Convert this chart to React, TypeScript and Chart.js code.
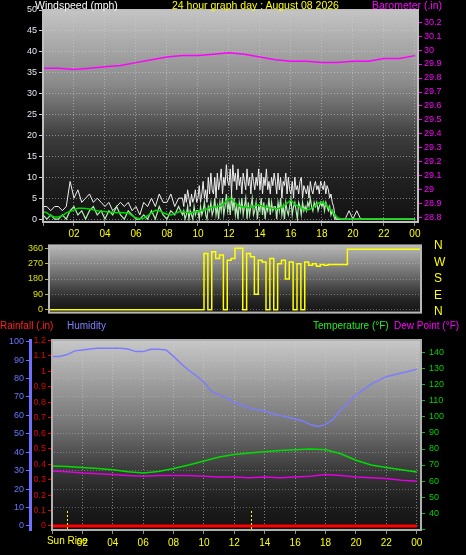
import React, { useEffect, useRef } from "react";
import { Chart, registerables } from "chart.js";
Chart.register(...registerables);

const FONT = "'Liberation Sans', Arial, sans-serif";

// ---------- DATA ----------
// 15-minute wind average samples (hours 0..24)
const avgHours = Array.from({ length: 97 }, (_, i) => i / 4);
// gust / speed samples: 15 min until 09:00, 5 min 09:00-19:00, 15 min after 19:00
const gustHours = [
  ...Array.from({ length: 36 }, (_, i) => i / 4),
  ...Array.from({ length: 120 }, (_, i) => 9 + i / 12),
  ...Array.from({ length: 21 }, (_, i) => 19 + i / 4),
];
const windGust = [
  3, 3, 2, 3, 3, 2, 3, 9, 5, 7, 4, 5, 6, 4, 5, 4, 3, 4, 2, 3, 4, 3, 4, 2,
  3, 1, 4, 3, 5, 3, 6, 4, 4, 6, 3, 5,
  5, 3, 6, 4, 7, 5, 3, 6, 4, 5, 7, 4,
  5, 8, 4, 6, 9, 5, 7, 4, 10, 6, 11, 7,
  6, 10, 5, 11, 7, 9, 12, 6, 10, 8, 13, 9,
  8, 12, 6, 13, 9, 11, 7, 12, 8, 10, 6, 11,
  9, 7, 12, 8, 10, 6, 11, 9, 7, 10, 8, 12,
  7, 11, 6, 10, 8, 12, 7, 9, 6, 10, 8, 11,
  9, 6, 11, 7, 10, 5, 9, 8, 11, 6, 10, 7,
  6, 9, 5, 10, 7, 8, 6, 9, 10, 5, 8, 7,
  6, 8, 5, 9, 7, 6, 8, 9, 7, 8, 6, 9,
  8, 7, 9, 6, 8, 7, 5, 6, 4, 3, 1, 0,
  0, 0, 0, 2, 0, 2, 0, 0, 0, 0, 0, 0, 0, 0, 0, 0, 0, 0, 0, 0, 0,
];
const windSpeed = [
  1, 0, 1, 0, 0, 1, 0, 2, 3, 1, 2, 0, 2, 3, 1, 2, 0, 2, 1, 3, 1, 0, 2, 1,
  0, 0, 1, 0, 2, 0, 3, 1, 0, 2, 1, 3,
  1, 2, 0, 1, 3, 0, 2, 1, 0, 3, 1, 2,
  2, 0, 3, 1, 2, 4, 1, 0, 3, 2, 4, 1,
  2, 5, 1, 3, 0, 4, 2, 5, 1, 3, 6, 2,
  4, 1, 6, 2, 5, 1, 3, 0, 4, 2, 5, 1,
  3, 5, 0, 4, 1, 3, 5, 1, 2, 4, 0, 3,
  2, 5, 1, 4, 0, 3, 2, 5, 1, 4, 2, 3,
  3, 0, 4, 2, 5, 1, 3, 0, 4, 2, 1, 3,
  5, 1, 3, 4, 2, 0, 4, 3, 1, 4, 2, 3,
  2, 4, 3, 5, 3, 2, 4, 3, 4, 2, 3, 4,
  3, 4, 2, 4, 3, 2, 3, 1, 2, 1, 0, 0,
  0, 0, 0, 0, 0, 0, 0, 0, 0, 0, 0, 0, 0, 0, 0, 0, 0, 0, 0, 0, 0,
];
const windAvg = [
  1.8, 1.5, 0.8, 0.5, 0.5, 0.8, 1.5, 1.8, 2.2, 2.6, 2.6, 2.5, 2.4, 2.2, 2.0, 1.9,
  1.8, 1.6, 1.7, 1.5, 1.6, 1.5, 1.4, 0.8, 0.3, 0.1, 0.2, 0.8, 1.5, 2.1, 2.0, 1.5,
  1.2, 1.0, 1.3, 1.7, 1.8, 1.6, 1.5, 1.7, 1.8, 2.1, 2.3, 2.7, 2.8, 3.0, 3.2, 4.0,
  5.0, 4.5, 3.5, 3.0, 2.9, 2.7, 2.9, 3.3, 3.3, 3.0, 2.8, 2.6, 2.5, 2.6, 3.0, 3.8,
  4.5, 3.5, 3.0, 2.5, 2.1, 2.4, 3.0, 3.8, 4.1, 3.5, 2.5, 1.5, 0.3, 0, 0, 0,
  0, 0, 0, 0, 0, 0, 0, 0, 0, 0, 0, 0, 0, 0, 0, 0,
  0,
];
const windDir = [
  0, 0, 0, 0, 0, 0, 0, 0, 0, 0, 0, 0, 0, 0, 0, 0, 0, 0, 0, 0,
  0, 0, 0, 0, 0, 0, 0, 0, 0, 0, 0, 0, 0, 0, 0, 0, 0, 0, 0, 0,
  330, 0, 340, 300, 320, 0, 290, 300, 360, 360, 0, 330, 310, 90, 290, 280,
  0, 300, 0, 270, 290, 180, 280, 0, 270, 0, 280, 260, 270, 255, 265, 260,
  265, 265, 265, 265, 265, 355, 355, 355,
  355, 355, 355, 355, 355, 355, 355, 355, 355, 355, 355, 355, 355, 355, 355, 355,
  355,
];
// hourly samples
const hourly = [0, 1, 2, 3, 4, 5, 6, 7, 8, 9, 10, 11, 12, 13, 14, 15, 16, 17, 18, 19, 20, 21, 22, 23, 24];
const barometer = [
  29.87, 29.87, 29.86, 29.87, 29.88, 29.89, 29.91, 29.93, 29.95, 29.96, 29.96, 29.97, 29.98,
  29.97, 29.95, 29.93, 29.92, 29.92, 29.91, 29.91, 29.92, 29.92, 29.94, 29.94, 29.96,
];
const temperature = [
  69.4, 69, 68.5, 67.8, 67, 65.8, 65, 66, 67.8, 70, 72.5, 75, 76.5,
  77.5, 78.3, 79, 79.5, 80, 79.5, 77, 73, 70, 68.5, 67, 65.6,
];
const dewPoint = [
  66.3, 65.8, 65, 64.5, 64, 63.5, 63, 63.5, 63.5, 63.5, 63, 62.5, 62.5,
  62, 62.5, 62, 62.5, 63, 64, 63.5, 62.5, 62, 61.5, 60.5, 59.8,
];
const rainfall = [0, 0, 0, 0, 0, 0, 0, 0, 0, 0, 0, 0, 0, 0, 0, 0, 0, 0, 0, 0, 0, 0, 0, 0, 0];
const halfHours = Array.from({ length: 49 }, (_, i) => i / 2);
const humidity = [
  92, 92, 93, 95, 95.5, 96, 96.4, 96.4, 96.4, 96.4, 96, 94.6, 94.6, 95.9, 95.9, 95.5,
  92, 88, 84.5, 81.5, 78, 73, 71, 69.5, 67, 65.5, 64, 63, 62.5, 61, 60, 59,
  58, 57, 55, 54, 55, 58, 63, 67, 71, 74, 77, 79, 81, 82, 83, 84, 85,
];
const sunEvents = [1.0, 13.1];
const sunLabel = "Sun Rise";
const compassLabels = ["N", "W", "S", "E", "N"];

// ---------- HELPERS ----------
const pts = (xs: number[], ys: number[]) => xs.map((x, i) => ({ x, y: ys[i] }));
const hourLabel = (v: any) => {
  const n = Number(v);
  return n > 0 && n <= 24 && n % 2 === 0 ? String(n % 24).padStart(2, "0") : "";
};
const decLabel = (v: any) => String(parseFloat(Number(v).toFixed(1)));
const GRID = "rgba(210,210,210,0.55)";

function bgPlugin(stops: [number, string][], frame: string) {
  return {
    id: "bgpanel",
    beforeDraw(chart: any) {
      const { ctx, chartArea: a } = chart;
      const g = ctx.createLinearGradient(0, a.top, 0, a.bottom);
      stops.forEach(([p, c]) => g.addColorStop(p, c));
      ctx.save();
      ctx.fillStyle = g;
      ctx.fillRect(a.left, a.top, a.right - a.left, a.bottom - a.top);
      ctx.restore();
    },
    afterDatasetsDraw(chart: any) {
      const { ctx, chartArea: a } = chart;
      ctx.save();
      ctx.strokeStyle = frame;
      ctx.lineWidth = 2;
      ctx.setLineDash([]);
      ctx.strokeRect(a.left, a.top, a.right - a.left, a.bottom - a.top);
      ctx.restore();
    },
  };
}

const sunPlugin = {
  id: "sun",
  afterDraw(chart: any) {
    const { ctx, chartArea: a, scales } = chart;
    ctx.save();
    ctx.strokeStyle = "#ffff00";
    ctx.lineWidth = 1;
    ctx.setLineDash([2, 2]);
    sunEvents.forEach((h) => {
      const x = Math.round(scales.x.getPixelForValue(h)) + 0.5;
      ctx.beginPath();
      ctx.moveTo(x, a.bottom - 19);
      ctx.lineTo(x, a.bottom);
      ctx.stroke();
    });
    ctx.setLineDash([]);
    ctx.fillStyle = "#ffff00";
    ctx.font = `10px ${FONT}`;
    ctx.textAlign = "center";
    ctx.textBaseline = "middle";
    ctx.fillText(sunLabel, scales.x.getPixelForValue(sunEvents[0]), a.bottom + 11);
    ctx.restore();
  },
};

const tickFont = { family: FONT, size: 9 };
const xFont = { family: FONT, size: 10 };

export default function App() {
  const r1 = useRef<HTMLCanvasElement>(null);
  const r2 = useRef<HTMLCanvasElement>(null);
  const r3 = useRef<HTMLCanvasElement>(null);

  useEffect(() => {
    const charts: Chart[] = [];
    const common = {
      responsive: false,
      maintainAspectRatio: false,
      animation: false as const,
      plugins: { legend: { display: false }, tooltip: { enabled: false } },
      elements: { point: { radius: 0 }, line: { tension: 0 } },
    };

    // ---- Top: wind + barometer ----
    charts.push(
      new Chart(r1.current!, {
        type: "line",
        data: {
          datasets: [
            { label: "Barometer", data: pts(hourly, barometer), yAxisID: "yB", borderColor: "#ff00ff", borderWidth: 1.5 },
            { label: "Average", data: pts(avgHours, windAvg), yAxisID: "yW", borderColor: "#00d800", borderWidth: 1.5 },
            { label: "Wind", data: pts(gustHours, windSpeed), yAxisID: "yW", borderColor: "#b4ecb4", borderWidth: 1.2 },
            { label: "Gust", data: pts(gustHours, windGust), yAxisID: "yW", borderColor: "#f0f0f0", borderWidth: 1 },
          ],
        },
        options: {
          ...common,
          layout: { padding: { top: 10, left: 0, right: 0, bottom: 0 } },
          scales: {
            x: {
              type: "linear", min: 0, max: 24.2,
              afterFit: (s: any) => { s.height = 23; },
              ticks: { stepSize: 2, includeBounds: false, autoSkip: false, maxRotation: 0, color: "#ffff00", font: xFont, padding: 2, callback: hourLabel },
              grid: { color: GRID, tickColor: "#909090", tickLength: 4 },
              border: { display: false, dash: [1, 2] },
            },
            yW: {
              position: "left", min: -0.7, max: 50,
              afterFit: (s: any) => { s.width = 43; },
              ticks: { stepSize: 5, includeBounds: false, color: "#e4e4f0", font: tickFont, padding: 2 },
              grid: { color: GRID, tickColor: "#d0d0d0", tickLength: 4 },
              border: { display: false, dash: [1, 2] },
            },
            yB: {
              position: "right", min: 28.771, max: 30.286,
              afterFit: (s: any) => { s.width = 48; },
              ticks: { stepSize: 0.1, includeBounds: false, color: "#ff00ff", font: tickFont, padding: 2, callback: decLabel },
              grid: { drawOnChartArea: false, color: "#ff00ff", tickLength: 4 },
              border: { display: true, color: "#e040e0", width: 1, dash: [1, 1] },
            },
          },
        },
        plugins: [bgPlugin([[0, "#c4c4c4"], [0.35, "#8a8a8a"], [0.6, "#3c3c3c"], [0.78, "#222222"], [1, "#121212"]], "#c0c0c0")],
      } as any)
    );

    // ---- Middle: wind direction ----
    charts.push(
      new Chart(r2.current!, {
        type: "line",
        data: {
          datasets: [
            { label: "Direction", data: pts(avgHours, windDir), borderColor: "#ffff00", borderWidth: 1.5, stepped: true },
          ],
        },
        options: {
          ...common,
          layout: { padding: { top: 5, left: 0, right: 45, bottom: 7 } },
          scales: {
            x: { type: "linear", min: 0, max: 24, display: false },
            y: {
              min: -17, max: 377,
              afterFit: (s: any) => { s.width = 49; },
              ticks: { stepSize: 90, includeBounds: false, color: "#e0e000", font: tickFont, padding: 2 },
              grid: { color: "rgba(200,200,200,0.45)", tickColor: "#c0c000", tickLength: 4 },
              border: { display: false, dash: [1, 2] },
            },
          },
        },
        plugins: [bgPlugin([[0, "#b8b8b8"], [0.45, "#6a6a6a"], [0.8, "#262626"], [1, "#141414"]], "#b8b8b8")],
      } as any)
    );

    // ---- Bottom: rain, humidity, temperature, dew point ----
    charts.push(
      new Chart(r3.current!, {
        type: "line",
        data: {
          datasets: [
            { label: "Rainfall", data: pts(hourly, rainfall), yAxisID: "yR", borderColor: "#ff0000", borderWidth: 3 },
            { label: "Temperature", data: pts(hourly, temperature), yAxisID: "yT", borderColor: "#00dd00", borderWidth: 1.5 },
            { label: "Dew Point", data: pts(hourly, dewPoint), yAxisID: "yT", borderColor: "#e000e0", borderWidth: 1.5 },
            { label: "Humidity", data: pts(halfHours, humidity), yAxisID: "yH", borderColor: "#7c7cff", borderWidth: 1.5 },
          ],
        },
        options: {
          ...common,
          layout: { padding: { top: 20, left: 0, right: 0, bottom: 0 } },
          scales: {
            x: {
              type: "linear", min: 0, max: 24.28,
              afterFit: (s: any) => { s.height = 25; },
              ticks: { stepSize: 2, includeBounds: false, autoSkip: false, maxRotation: 0, color: "#ffff00", font: xFont, padding: 3, callback: hourLabel },
              grid: { color: GRID, tickColor: "#909090", tickLength: 4 },
              border: { display: false, dash: [1, 2] },
            },
            yH: {
              position: "left", weight: 1, min: -2.17, max: 100.9,
              afterFit: (s: any) => { s.width = 30; },
              ticks: { stepSize: 10, includeBounds: false, color: "#6878ff", font: tickFont, padding: 2 },
              grid: { color: "rgba(200,200,200,0.4)", tickColor: "#7070ff", tickLength: 4 },
              border: { display: true, color: "#7070ff", width: 3, dash: [1, 2] },
            },
            yR: {
              position: "left", weight: 0, min: -0.026, max: 1.2016,
              afterFit: (s: any) => { s.width = 22; },
              ticks: { stepSize: 0.1, includeBounds: false, color: "#e00000", font: tickFont, padding: 2, callback: decLabel },
              grid: { drawOnChartArea: false, color: "#e00000", tickLength: 4 },
              border: { display: true, color: "#ff3030", width: 2, dash: [2, 2] },
            },
            yT: {
              position: "right", min: 29.4, max: 148.1,
              afterFit: (s: any) => { s.width = 45; },
              ticks: { stepSize: 10, includeBounds: false, color: "#00d000", font: tickFont, padding: 4, callback: (v: any) => (Number(v) >= 40 ? String(v) : "") },
              grid: { drawOnChartArea: false, color: "#00c000", tickLength: 4 },
              border: { display: true, color: "#00c000", width: 2, dash: [1, 2] },
            },
          },
        },
        plugins: [bgPlugin([[0, "#c8c8c8"], [0.45, "#747474"], [0.7, "#363636"], [0.85, "#1e1e1e"], [1, "#121212"]], "#b0b0b0"), sunPlugin],
      } as any)
    );

    return () => charts.forEach((c) => c.destroy());
  }, []);

  const txt = (s: string, left: number, top: number, color: string, size = 10.5): any => (
    <span
      key={s + left + top}
      style={{
        position: "absolute", left, top, color, fontFamily: FONT, fontSize: size,
        lineHeight: 1, whiteSpace: "nowrap",
      }}
    >
      {s}
    </span>
  );

  return (
    <div style={{ position: "fixed", left: 0, top: 0, width: 466, height: 555, background: "#000", overflow: "hidden" }}>
      <canvas ref={r1} width={466} height={245} style={{ position: "absolute", left: 0, top: 0, width: 466, height: 245 }} />
      <canvas ref={r2} width={466} height={82} style={{ position: "absolute", left: 0, top: 238, width: 466, height: 82 }} />
      <canvas ref={r3} width={466} height={235} style={{ position: "absolute", left: 0, top: 320, width: 466, height: 235 }} />
      {txt("Windspeed (mph)", 35, 0, "#ffffff")}
      {txt("24 hour graph day : August 08 2026", 172, 0, "#ffff00")}
      {txt("Barometer (.in)", 372, 0, "#ff00ff")}
      {compassLabels.map((c, i) => txt(c, 434, 239 + i * 16.5, "#ffff00", 12))}
      {txt("Rainfall (.in)", 0, 321, "#ff2020", 10)}
      {txt("Humidity", 67, 321, "#8080ff", 10)}
      {txt("Temperature (°F)", 313, 321, "#22ee22", 10)}
      {txt("Dew Point (°F)", 394, 321, "#ff00ff", 10)}
    </div>
  );
}
